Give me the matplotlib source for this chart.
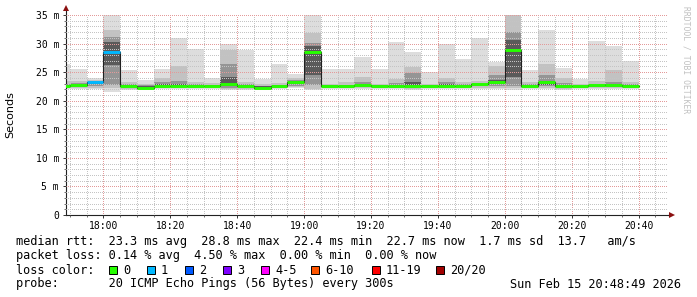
import numpy as np
import matplotlib
matplotlib.use("Agg")
import matplotlib.pyplot as plt
from matplotlib.ticker import MultipleLocator, FuncFormatter
from matplotlib.patches import Rectangle

# ---- smokeping data, one entry per 5 minute bin (values in ms) ----
bin_start = ["17:45", "17:50", "17:55", "18:00", "18:05", "18:10", "18:15",
             "18:20", "18:25", "18:30", "18:35", "18:40", "18:45", "18:50",
             "18:55", "19:00", "19:05", "19:10", "19:15", "19:20", "19:25",
             "19:30", "19:35", "19:40", "19:45", "19:50", "19:55", "20:00",
             "20:05", "20:10", "20:15", "20:20", "20:25", "20:30", "20:35"]

rtt_max  = [26.5, 25.5, 23.9, 36.0, 25.4, 23.6, 25.5, 30.9, 29.0, 23.9, 29.9, 28.8,
            23.8, 26.5, 24.7, 36.0, 25.5, 25.5, 27.7, 25.5, 30.2, 28.6, 25.1, 29.9,
            27.3, 31.0, 26.7, 40.0, 25.3, 32.4, 25.8, 23.8, 30.5, 29.5, 26.9]
band2_hi = [23.4, 23.4, 23.6, 32.4, 23.3, 23.0, 24.0, 26.0, 23.3, 23.1, 28.9, 23.3,
            22.9, 23.1, 24.0, 31.8, 23.0, 23.2, 24.2, 23.0, 23.8, 25.9, 23.0, 24.0,
            23.2, 23.4, 26.0, 36.0, 23.3, 26.5, 24.0, 22.9, 23.4, 25.3, 23.3]
band3_hi = [23.0, 23.1, 23.4, 31.2, 22.9, 22.7, 23.2, 23.5, 22.9, 22.8, 26.5, 22.9,
            22.6, 22.8, 23.6, 30.1, 22.8, 22.8, 23.3, 22.8, 23.1, 24.8, 22.8, 23.3,
            22.9, 23.1, 24.5, 32.1, 22.9, 24.5, 23.1, 22.7, 22.9, 23.2, 22.9]
band4_hi = [22.8, 22.9, 23.3, 30.3, 22.7, 22.5, 22.9, 23.0, 22.8, 22.7, 24.2, 22.8,
            22.5, 22.7, 23.4, 29.5, 22.7, 22.7, 22.9, 22.7, 22.8, 23.2, 22.7, 22.9,
            22.8, 23.0, 23.6, 30.6, 22.8, 23.5, 22.8, 22.6, 22.8, 22.9, 22.8]
median   = [22.6, 22.8, 23.3, 28.6, 22.5, 22.3, 22.65, 22.6, 22.6, 22.6, 22.9, 22.6,
            22.3, 22.5, 23.2, 28.5, 22.5, 22.5, 22.7, 22.5, 22.55, 22.5, 22.5, 22.6,
            22.6, 22.9, 23.3, 28.8, 22.6, 23.2, 22.5, 22.5, 22.7, 22.7, 22.6]
band4_lo = [22.5, 22.6, 22.9, 26.3, 22.4, 22.2, 22.5, 22.5, 22.5, 22.5, 22.6, 22.4,
            22.2, 22.4, 22.9, 24.5, 22.4, 22.4, 22.6, 22.4, 22.4, 22.4, 22.4, 22.5,
            22.5, 22.7, 22.9, 24.2, 22.5, 22.8, 22.4, 22.4, 22.5, 22.5, 22.5]
band3_lo = [22.4, 22.4, 22.6, 22.8, 22.2, 22.1, 22.3, 22.4, 22.3, 22.4, 22.3, 22.2,
            22.1, 22.3, 22.6, 22.7, 22.3, 22.3, 22.4, 22.3, 22.3, 22.3, 22.3, 22.3,
            22.4, 22.5, 22.6, 22.6, 22.4, 22.5, 22.3, 22.3, 22.4, 22.4, 22.4]
band2_lo = [22.3, 22.2, 22.3, 22.2, 22.1, 22.0, 22.2, 22.2, 22.2, 22.3, 22.1, 22.0,
            22.0, 22.2, 22.4, 22.1, 22.2, 22.2, 22.3, 22.2, 22.2, 22.1, 22.2, 22.2,
            22.3, 22.3, 22.3, 22.2, 22.3, 22.3, 22.1, 22.2, 22.3, 22.3, 22.3]
rtt_min  = [22.1, 22.0, 22.0, 21.6, 21.9, 21.9, 22.0, 22.0, 22.0, 22.1, 21.9, 21.8,
            21.9, 22.0, 22.2, 21.8, 22.1, 22.0, 22.1, 22.1, 22.0, 21.9, 22.1, 22.0,
            22.1, 22.1, 22.1, 21.8, 22.1, 22.1, 21.9, 22.0, 22.1, 22.1, 22.1]
loss     = [0, 0, 1, 1, 0, 0, 0, 0, 0, 0, 0, 0, 0, 0, 0, 0, 0, 0, 0, 0, 0, 0, 0, 0,
            0, 0, 0, 0, 0, 0, 0, 0, 0, 0, 0]

loss_labels = ["0", "1", "2", "3", "4-5", "6-10", "11-19", "20/20"]
loss_colors = ["#26ff00", "#00b8ff", "#0059ff", "#7e00ff", "#ff00ff",
               "#ff5500", "#ff0000", "#a10000"]

mono = "DejaVu Sans Mono"
W, H = 697, 297

t = np.array([int(s[:2]) * 60 + int(s[3:]) for s in bin_start], dtype=float)

fig = plt.figure(figsize=(W / 100, H / 100), dpi=100)
ax = fig.add_axes([66 / W, (H - 215) / H, (668 - 66) / W, 200 / H])

# smoke
bands = [(rtt_min, rtt_max, "#dddddd"),
         (band2_lo, band2_hi, "#c2c2c2"),
         (band3_lo, band3_hi, "#959595"),
         (band4_lo, band4_hi, "#5a5a5a")]
for lo, hi, col in bands:
    lo = np.array(lo)
    hi = np.array(hi)
    ax.bar(t, hi - lo, bottom=lo, width=5, align="edge", color=col,
           linewidth=0, zorder=1)

# median line
med = np.array(median)
ax.step(np.r_[t, t[-1] + 5], np.r_[med, med[-1]], where="post",
        color="#202020", lw=0.8, zorder=4)
ax.hlines(med, t, t + 5, colors=[loss_colors[l] for l in loss], lw=2.1, zorder=5)

ax.set_xlim(1068.82, 1248.82)
ax.set_ylim(0, 35)

ax.xaxis.set_major_locator(MultipleLocator(20))
ax.xaxis.set_minor_locator(MultipleLocator(5))
ax.yaxis.set_major_locator(MultipleLocator(5))
ax.yaxis.set_minor_locator(MultipleLocator(1))
ax.xaxis.set_major_formatter(FuncFormatter(lambda v, p: "%02d:%02d" % (v // 60, v % 60)))
ax.yaxis.set_major_formatter(FuncFormatter(lambda v, p: "0" if v == 0 else "%d m" % v))

ax.grid(which="minor", color="#c4c4c4", linestyle=(0, (1, 2)), lw=0.72,
        antialiased=False)
ax.grid(which="major", color="#e39a9a", linestyle=(0, (1, 2)), lw=0.72,
        antialiased=False)
ax.set_axisbelow(False)
for gl in ax.get_xgridlines() + ax.get_ygridlines():
    gl.set_zorder(2)

ax.tick_params(which="major", length=2.5, width=0.7, color="#333333",
               labelsize=7, pad=1.5)
ax.tick_params(which="minor", length=1.2, width=0.6, color="#555555")
for lab in ax.get_xticklabels() + ax.get_yticklabels():
    lab.set_family(mono)
ax.tick_params(axis="y", pad=2.5)

for s in ["top", "right"]:
    ax.spines[s].set_visible(False)
for s in ["left", "bottom"]:
    ax.spines[s].set_linewidth(0.8)
    ax.spines[s].set_color("#222222")

# axis arrows
ax.plot([0, 0], [1, 1.03], transform=ax.transAxes, clip_on=False,
        color="#222222", lw=0.8)
ax.plot([1, 1.004], [0, 0], transform=ax.transAxes, clip_on=False,
        color="#222222", lw=0.8)
ax.plot([0], [1.033], marker="^", ms=4, color="#8b1010", mew=0,
        transform=ax.transAxes, clip_on=False)
ax.plot([1.006], [0], marker=">", ms=4, color="#8b1010", mew=0,
        transform=ax.transAxes, clip_on=False)

fig.text(10 / W, 1 - 115 / H, "Seconds", rotation=90, ha="center", va="center",
         fontsize=8)
fig.text(686 / W, 1 - 60 / H, "RRDTOOL / TOBI OETIKER", rotation=270,
         ha="center", va="center", fontsize=5.8, family=mono, color="#c0c0c0")

fs = 8.55
fig.text(16 / W, 1 - 241 / H,
         "median rtt:  23.3 ms avg  28.8 ms max  22.4 ms min  22.7 ms now  1.7 ms sd  13.7   am/s",
         family=mono, fontsize=fs, va="center")
fig.text(16 / W, 1 - 256 / H,
         "packet loss: 0.14 % avg  4.50 % max  0.00 % min  0.00 % now",
         family=mono, fontsize=fs, va="center")
fig.text(16 / W, 1 - 270 / H, "loss color:", family=mono, fontsize=fs, va="center")
box_x = [109, 147, 185, 223, 261, 311, 372, 436]
for bx, lab, col in zip(box_x, loss_labels, loss_colors):
    fig.patches.append(Rectangle((bx / W, 1 - 274 / H), 8 / W, 8 / H,
                                 transform=fig.transFigure, facecolor=col,
                                 edgecolor="black", lw=0.7))
    fig.text((bx + 14) / W, 1 - 270 / H, lab, family=mono, fontsize=fs, va="center")
fig.text(16 / W, 1 - 284 / H,
         "probe:       20 ICMP Echo Pings (56 Bytes) every 300s",
         family=mono, fontsize=fs, va="center")
fig.text(681 / W, 1 - 284 / H, "Sun Feb 15 20:48:49 2026",
         family=mono, fontsize=fs, va="center", ha="right")

fig.savefig("out.png", dpi=100, facecolor="white")
